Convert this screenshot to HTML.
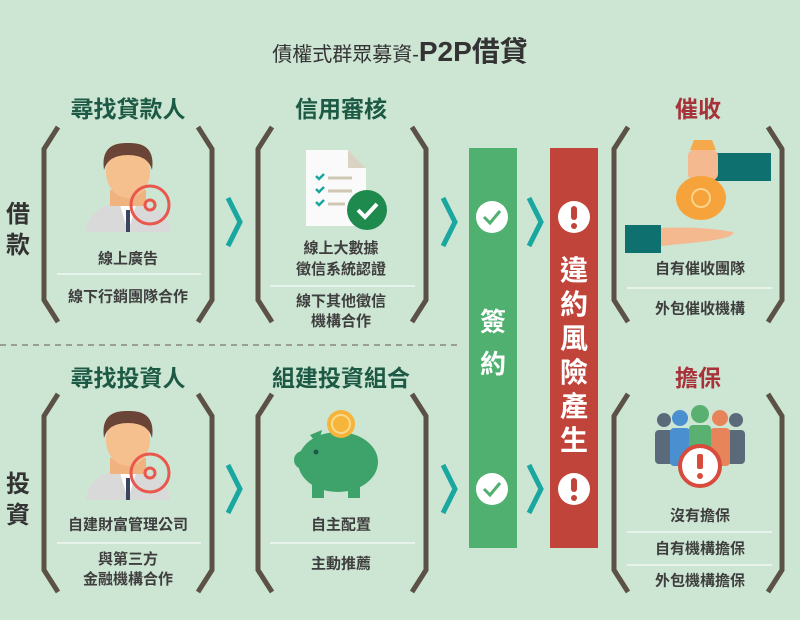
<!DOCTYPE html>
<html><head><meta charset="utf-8"><style>
html,body{margin:0;padding:0}
body{width:800px;height:620px;background:#cde5d3;position:relative;overflow:hidden;font-family:"Liberation Sans","Noto Sans CJK TC",sans-serif;}
.t{position:absolute;transform:translate(-50%,-50%);white-space:nowrap;font-weight:bold;}
.h{font-size:23px;color:#1d5a45;}
.r{color:#a8323a}
.s{font-size:15px;color:#3e3e3e;}
.side{font-size:24px;color:#333;}
.ln{position:absolute;height:2px;background:#e8f3eb;}
.v{font-size:28px;color:#fff;}
svg{position:absolute;left:0;top:0}
</style></head><body>
<div class="t" style="left:400px;top:50px;color:#333"><span style="font-size:20px;font-weight:normal">債權式群眾募資-</span><span style="font-size:28px">P2P借貸</span></div>

<svg width="800" height="620">
<g stroke="#5b5147" stroke-width="5" fill="none">
<polyline points="58,127 44,149 44,300 58,322"/><polyline points="198,127 212,149 212,300 198,322"/>
<polyline points="272,127 258,149 258,300 272,322"/><polyline points="412,127 426,149 426,300 412,322"/>
<polyline points="628,127 614,149 614,300 628,322"/><polyline points="768,127 782,149 782,300 768,322"/>
<polyline points="58,394 44,416 44,570 58,592"/><polyline points="198,394 212,416 212,570 198,592"/>
<polyline points="272,394 258,416 258,570 272,592"/><polyline points="412,394 426,416 426,570 412,592"/>
<polyline points="628,394 614,416 614,570 628,592"/><polyline points="768,394 782,416 782,570 768,592"/>
</g>
<line x1="0" y1="345" x2="462" y2="345" stroke="#8a8a7a" stroke-width="1.5" stroke-dasharray="6,5"/>
<g stroke="#1aa7a0" stroke-width="5" fill="none">
<polyline points="228,198 240,222 228,246"/><polyline points="443,198 455,222 443,246"/><polyline points="529,198 541,222 529,246"/>
<polyline points="228,465 240,489 228,513"/><polyline points="443,465 455,489 443,513"/><polyline points="529,465 541,489 529,513"/>
</g>
<rect x="469" y="148" width="48" height="400" fill="#4fb06f"/>
<rect x="550" y="148" width="48" height="400" fill="#c0443a"/>
<circle cx="492" cy="217" r="16" fill="#fff"/><polyline points="484,217 490,223 500,211" stroke="#4fb06f" stroke-width="3" fill="none"/>
<circle cx="492" cy="489" r="16" fill="#fff"/><polyline points="484,489 490,495 500,483" stroke="#4fb06f" stroke-width="3" fill="none"/>
<circle cx="574" cy="217" r="16" fill="#fff"/><rect x="571" y="206" width="6" height="14" rx="3" fill="#c0443a"/><circle cx="574" cy="226" r="3" fill="#c0443a"/>
<circle cx="574" cy="489" r="16" fill="#fff"/><rect x="571" y="478" width="6" height="14" rx="3" fill="#c0443a"/><circle cx="574" cy="498" r="3" fill="#c0443a"/>
<!-- person icons -->
<g>
<path d="M86,232 Q88,205 128,200 Q168,205 170,232 Z" fill="#d9d9d9"/><polygon points="120,205 128,232 136,205" fill="#fff"/><rect x="126" y="210" width="4" height="22" fill="#3a4660"/>
<rect x="110" y="190" width="36" height="16" fill="#f0b27f"/><ellipse cx="128" cy="172" rx="22" ry="26" fill="#f5c08e"/><path d="M104,170 Q100,142 128,143 Q156,142 152,170 Q148,155 128,155 Q108,155 104,170Z" fill="#6a4436"/>
<circle cx="150" cy="205" r="19" fill="none" stroke="#e8584c" stroke-width="3"/><circle cx="150" cy="205" r="5" fill="none" stroke="#e8584c" stroke-width="3"/>
</g>
<g transform="translate(0,268)">
<path d="M86,232 Q88,205 128,200 Q168,205 170,232 Z" fill="#d9d9d9"/><polygon points="120,205 128,232 136,205" fill="#fff"/><rect x="126" y="210" width="4" height="22" fill="#3a4660"/>
<rect x="110" y="190" width="36" height="16" fill="#f0b27f"/><ellipse cx="128" cy="172" rx="22" ry="26" fill="#f5c08e"/><path d="M104,170 Q100,142 128,143 Q156,142 152,170 Q148,155 128,155 Q108,155 104,170Z" fill="#6a4436"/>
<circle cx="150" cy="205" r="19" fill="none" stroke="#e8584c" stroke-width="3"/><circle cx="150" cy="205" r="5" fill="none" stroke="#e8584c" stroke-width="3"/>
</g>
<g>
<polygon points="306,150 348,150 366,168 366,226 306,226" fill="#fafafa"/><polygon points="348,150 366,168 348,168" fill="#d8d3c2"/>
<g stroke="#1aa7a0" stroke-width="2.5" fill="none"><polyline points="316,176 319,179 324,174"/><polyline points="316,189 319,192 324,187"/><polyline points="316,202 319,205 324,200"/></g>
<g stroke="#cfc8b4" stroke-width="3"><line x1="328" y1="178" x2="352" y2="178"/><line x1="328" y1="191" x2="352" y2="191"/><line x1="328" y1="204" x2="345" y2="204"/></g>
<circle cx="367" cy="210" r="20" fill="#1f8a4e"/><polyline points="358,210 365,217 377,204" stroke="#fff" stroke-width="4" fill="none"/>
</g>
<g>
<rect x="713" y="153" width="58" height="28" fill="#0f7070"/><rect x="688" y="150" width="30" height="30" rx="6" fill="#f4b98e"/>
<path d="M690,150 L694,140 L712,140 L716,150Z" fill="#f5a94a"/>
<ellipse cx="701" cy="198" rx="25" ry="22" fill="#f5a33a"/><circle cx="701" cy="198" r="9" fill="none" stroke="#fbd38a" stroke-width="2"/>
<rect x="625" y="225" width="36" height="28" fill="#0f7070"/><path d="M661,228 Q700,226 733,232 Q735,238 700,242 L661,246Z" fill="#f4b98e"/>
</g>
<g>
<ellipse cx="338" cy="462" rx="40" ry="30" fill="#3ea36a"/><circle cx="303" cy="460" r="9" fill="#3ea36a"/><polygon points="310,435 322,430 318,445" fill="#3ea36a"/>
<rect x="312" y="478" width="12" height="20" fill="#3ea36a"/><rect x="348" y="478" width="12" height="20" fill="#3ea36a"/>
<circle cx="341" cy="424" r="14" fill="#f5b43a"/><circle cx="341" cy="424" r="9" fill="none" stroke="#fbd98a" stroke-width="2"/><circle cx="316" cy="452" r="2.5" fill="#1d5a45"/>
</g>
<g>
<g fill="#5a6a7a"><circle cx="664" cy="420" r="7"/><rect x="655" y="430" width="18" height="34" rx="4"/><circle cx="736" cy="420" r="7"/><rect x="727" y="430" width="18" height="34" rx="4"/></g>
<g fill="#4a8fd0"><circle cx="680" cy="418" r="8"/><rect x="670" y="428" width="20" height="38" rx="4"/></g>
<g fill="#e8845a"><circle cx="720" cy="418" r="8"/><rect x="710" y="428" width="20" height="38" rx="4"/></g>
<g fill="#5ab070"><circle cx="700" cy="414" r="9"/><rect x="689" y="425" width="22" height="40" rx="4"/></g>
<circle cx="700" cy="466" r="20" fill="#fff" stroke="#d84a3c" stroke-width="4"/><rect x="697" y="454" width="6" height="15" rx="2" fill="#d84a3c"/><circle cx="700" cy="476" r="3" fill="#d84a3c"/>
</g>
</svg>

<div class="t h" style="left:128px;top:107px">尋找貸款人</div>
<div class="t h" style="left:341px;top:107px">信用審核</div>
<div class="t h r" style="left:698px;top:107px">催收</div>
<div class="t h" style="left:128px;top:376px">尋找投資人</div>
<div class="t h" style="left:341px;top:376px">組建投資組合</div>
<div class="t h r" style="left:698px;top:376px">擔保</div>

<div class="t side" style="left:18px;top:230px;line-height:31px">借<br>款</div>
<div class="t side" style="left:18px;top:500px;line-height:31px">投<br>資</div>

<div class="t s" style="left:128px;top:258px">線上廣告</div>
<div class="ln" style="left:57px;top:273px;width:144px"></div>
<div class="t s" style="left:128px;top:296px">線下行銷團隊合作</div>

<div class="t s" style="left:341px;top:259px;line-height:21px;text-align:center">線上大數據<br>徵信系統認證</div>
<div class="ln" style="left:270px;top:285px;width:145px"></div>
<div class="t s" style="left:341px;top:312px;line-height:20px;text-align:center">線下其他徵信<br>機構合作</div>

<div class="t s" style="left:700px;top:268px">自有催收團隊</div>
<div class="ln" style="left:627px;top:287px;width:145px"></div>
<div class="t s" style="left:700px;top:308px">外包催收機構</div>

<div class="t s" style="left:128px;top:524px">自建財富管理公司</div>
<div class="ln" style="left:57px;top:542px;width:144px"></div>
<div class="t s" style="left:128px;top:570px;line-height:20px;text-align:center">與第三方<br>金融機構合作</div>

<div class="t s" style="left:341px;top:524px">自主配置</div>
<div class="ln" style="left:270px;top:542px;width:145px"></div>
<div class="t s" style="left:341px;top:563px">主動推薦</div>

<div class="t s" style="left:700px;top:515px">沒有擔保</div>
<div class="ln" style="left:627px;top:531px;width:145px"></div>
<div class="t s" style="left:700px;top:548px">自有機構擔保</div>
<div class="ln" style="left:627px;top:564px;width:145px"></div>
<div class="t s" style="left:700px;top:580px">外包機構擔保</div>

<div class="t v" style="left:493px;top:343px;line-height:42px;font-size:26px">簽<br>約</div>
<div class="t v" style="left:574px;top:356px;line-height:34px">違<br>約<br>風<br>險<br>產<br>生</div>
</body></html>
